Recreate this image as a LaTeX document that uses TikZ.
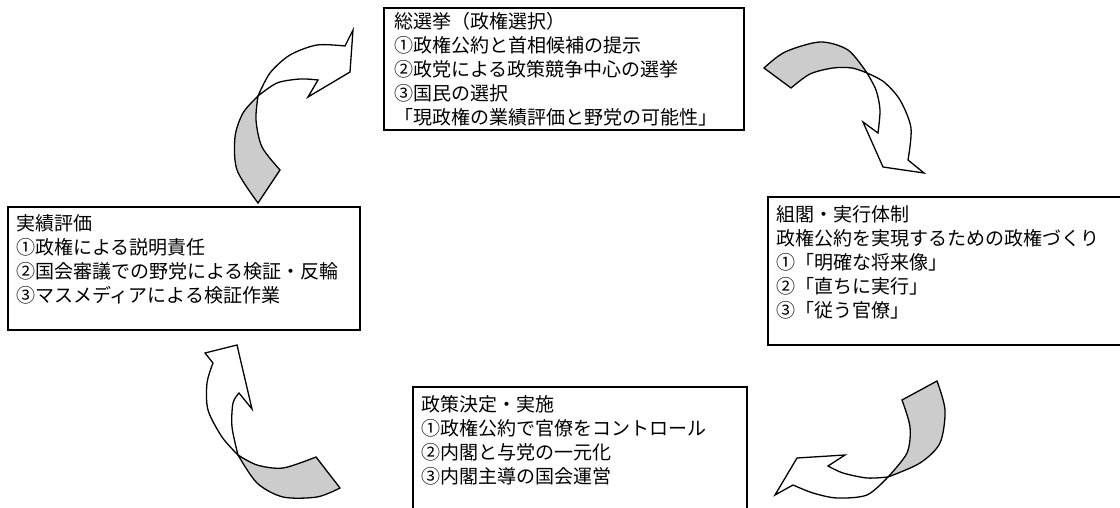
\documentclass[tikz,border=0pt]{standalone}
\usepackage{fontspec}
\setmainfont{Noto Sans CJK JP}

\tikzset{
  panel/.style={draw, line width=1.6pt},
  panelText/.style={anchor=north west, inner sep=0pt, align=left, font=\fontsize{19}{24}\selectfont},
  turnBack/.style={draw, fill=black!20, line width=1.3pt},
  turnFront/.style={draw, fill=white, line width=1.3pt}
}

\begin{document}
\begin{tikzpicture}[x=1pt,y=-1pt]
  \clip (0,0) rectangle (1120,508);
  \fill[white] (0,0) rectangle (1120,508);

  \draw[panel] (384,8) rectangle (744,130);
  \node[panelText] (election) at (394,12) {総選挙（政権選択）\\①政権公約と首相候補の提示\\②政党による政策競争中心の選挙\\③国民の選択\\「現政権の業績評価と野党の可能性」};

  \draw[panel] (768,197) rectangle (1130,345);
  \node[panelText] (cabinet) at (776,205) {組閣・実行体制\\政権公約を実現するための政権づくり\\①「明確な将来像」\\②「直ちに実行」\\③「従う官僚」};

  \draw[panel] (413,387) rectangle (747,520);
  \node[panelText] (policy) at (421,395) {政策決定・実施\\①政権公約で官僚をコントロール\\②内閣と与党の一元化\\③内閣主導の国会運営};

  \draw[panel] (8,207) rectangle (360,330);
  \node[panelText] (review) at (16,214) {実績評価\\①政権による説明責任\\②国会審議での野党による検証・反輪\\③マスメディアによる検証作業};

  \filldraw[turnBack] (764,68) -- (791,88) -- plot[smooth] coordinates {(791,88) (810,74) (833,68) (852,68) (867,73)} -- plot[smooth] coordinates {(867,73) (848,50) (820,42) (785,52) (764,68)} -- cycle;
  \filldraw[turnFront] plot[smooth] coordinates {(867,73) (876,90) (880,110) (878,133)} -- (863,122) -- (883,167) -- (924,173) -- (908,160) -- plot[smooth] coordinates {(908,160) (911,128) (900,100) (884,82) (867,73)} -- cycle;

  \filldraw[turnBack] (902,400) -- plot[smooth] coordinates {(902,400) (910,427) (907,453) (888,477)} -- plot[smooth] coordinates {(888,477) (920,463) (940,443) (945,410) (937,381)} -- cycle;
  \filldraw[turnFront] plot[smooth] coordinates {(888,477) (867,478) (843,473) (828,466)} -- (845,455) -- (797,458) -- (775,495) -- (793,485) -- plot[smooth] coordinates {(793,485) (813,493) (837,498) (867,495) (888,477)} -- cycle;

  \filldraw[turnBack] (316,457) -- plot[smooth] coordinates {(316,457) (283,468) (257,465) (238,455)} -- plot[smooth] coordinates {(238,455) (257,483) (283,497) (317,497) (340,488)} -- cycle;
  \filldraw[turnFront] plot[smooth] coordinates {(238,455) (232,427) (233,403) (239,393)} -- (252,409) -- (237,345) -- (205,353) -- (213,363) -- plot[smooth] coordinates {(213,363) (207,383) (208,410) (222,437) (238,455)} -- cycle;

  \filldraw[turnBack] (258,203) -- (280,170) -- plot[smooth] coordinates {(280,170) (262,147) (256,120) (258,96)} -- plot[smooth] coordinates {(258,96) (243,113) (235,137) (237,170) (258,203)} -- cycle;
  \filldraw[turnFront] plot[smooth] coordinates {(258,96) (270,73) (290,55) (317,45) (345,46)} -- (353,30) -- (350,72) -- (308,97) -- (318,80) -- plot[smooth] coordinates {(318,80) (300,79) (277,83) (258,96)} -- cycle;
\end{tikzpicture}
\end{document}
